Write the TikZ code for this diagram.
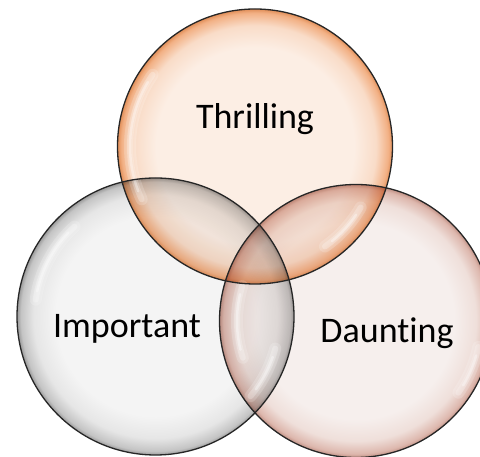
\documentclass[tikz,border=0pt]{standalone}
\usepackage{fontspec}
\setmainfont{Carlito}[Ligatures={NoCommon}]
\definecolor{topin}{HTML}{FCEEE4}
\definecolor{topmid}{HTML}{F9DCC8}
\definecolor{topout}{HTML}{F2B084}
\definecolor{topedge}{HTML}{E08E58}
\definecolor{leftin}{HTML}{F4F4F4}
\definecolor{leftmid}{HTML}{E6E6E6}
\definecolor{leftout}{HTML}{C4C4C4}
\definecolor{leftedge}{HTML}{9A9A9A}
\definecolor{rightin}{HTML}{F6EFED}
\definecolor{rightmid}{HTML}{EFDFDA}
\definecolor{rightout}{HTML}{DDB7AD}
\definecolor{rightedge}{HTML}{C09084}
\pgfdeclareradialshading[topin,topmid,topout,topedge]{topglass}{\pgfpoint{0bp}{0bp}}{color(0bp)=(topin); color(18bp)=(topin); color(22bp)=(topmid); color(24.3bp)=(topout); color(25bp)=(topedge); color(50bp)=(topedge)}
\pgfdeclareradialshading[leftin,leftmid,leftout,leftedge]{leftglass}{\pgfpoint{0bp}{0bp}}{color(0bp)=(leftin); color(18bp)=(leftin); color(22bp)=(leftmid); color(24.3bp)=(leftout); color(25bp)=(leftedge); color(50bp)=(leftedge)}
\pgfdeclareradialshading[rightin,rightmid,rightout,rightedge]{rightglass}{\pgfpoint{0bp}{0bp}}{color(0bp)=(rightin); color(18bp)=(rightin); color(22bp)=(rightmid); color(24.3bp)=(rightout); color(25bp)=(rightedge); color(50bp)=(rightedge)}
\tikzset{
  glassfill/.style={blend mode=multiply},
  rim/.style={draw=black!85, line width=1.3pt},
  shine/.style={white, line cap=round},
  label/.style={font=\fontsize{36}{40}\selectfont, text=black, inner sep=0pt, anchor=base}
}
\begin{document}
\begin{tikzpicture}[x=1pt,y=1pt]
\useasboundingbox (0,0) rectangle (480,457);
\clip (0,0) rectangle (480,457);
\coordinate (T) at (255,310.5);
\coordinate (L) at (155.5,140.5);
\coordinate (R) at (356,136);
% fills
\shade[glassfill, shading=topglass] (T) circle (137.5);
\shade[glassfill, shading=leftglass] (L) circle (138.5);
\shade[glassfill, shading=rightglass] (R) circle (136.5);
% highlights
\foreach \c/\a/\b/\r in {T/145/205/125, T/-55/-30/122, L/132/172/121, L/-40/-15/124, R/163/198/119, R/-35/-12/125}{
  \draw[shine, line width=12pt, opacity=0.18] ([shift={(\a:\r)}]\c) arc (\a:\b:\r);
  \draw[shine, line width=6pt, opacity=0.25] ([shift={(\a:\r)}]\c) arc (\a:\b:\r);
  \draw[shine, line width=2.5pt, opacity=0.35] ([shift={(\a+4:\r)}]\c) arc (\a+4:\b-4:\r);
}
% outlines
\draw[rim] (T) circle (137.5);
\draw[rim] (L) circle (138.5);
\draw[rim] (R) circle (136.5);
% labels
\node[label] (thr) at (255,328) {Thrilling};
\node[label] (imp) at (127,119) {Important};
\node[label] (dau) at (387,114) {Daunt\kern0pt ing};
\end{tikzpicture}
\end{document}
